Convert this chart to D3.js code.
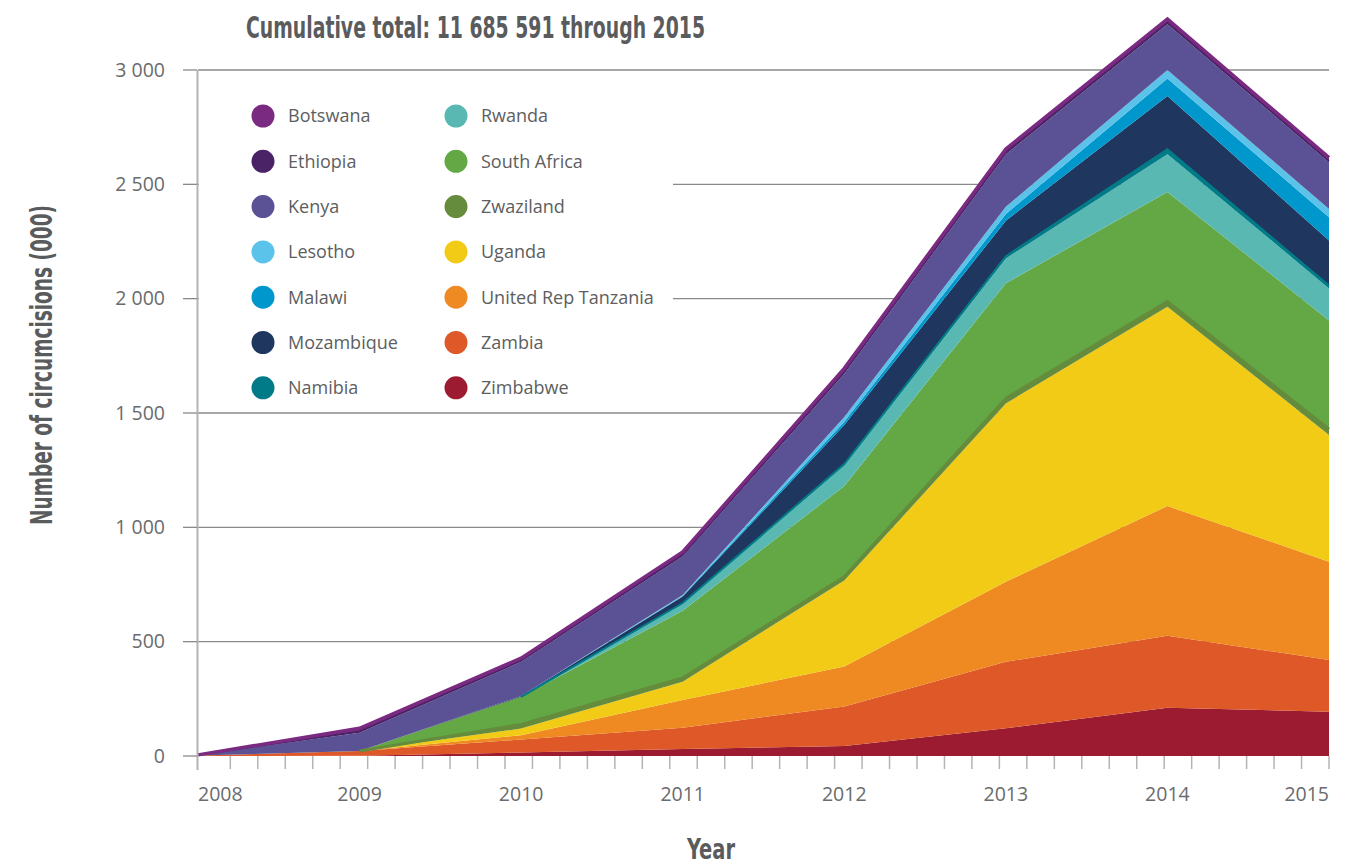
<!DOCTYPE html>
<html>
<head>
<meta charset="utf-8">
<script src="https://cdn.jsdelivr.net/npm/d3@7"></script>
<style>
  html, body { margin: 0; padding: 0; background: #fff; }
  svg { display: block; }
</style>
</head>
<body>
<svg id="chart" width="1356" height="865"></svg>
<script>
// ---------------- DATA ----------------
const years = [2008, 2009, 2010, 2011, 2012, 2013, 2014, 2015];
const xTickLabels = ["2008", "2009", "2010", "2011", "2012", "2013", "2014", "2015"];
const yTickValues = [0, 500, 1000, 1500, 2000, 2500, 3000];
const yTickLabels = ["0", "500", "1 000", "1 500", "2 000", "2 500", "3 000"];

// legend order (top-left to bottom-right); stack order is the reverse
const countries = ["Botswana", "Ethiopia", "Kenya", "Lesotho", "Malawi", "Mozambique", "Namibia",
                   "Rwanda", "South Africa", "Zwaziland", "Uganda", "United Rep Tanzania", "Zambia", "Zimbabwe"];
const colors = ["#7b2a82", "#4a2366", "#5a5294", "#5bc3ea", "#0098cc", "#1f365e", "#007b87",
                "#5ab8b2", "#63a844", "#648c3c", "#f2cb16", "#ef8a22", "#de5828", "#9c1b30"];

// annual circumcisions (thousands), 2008..2015
const botswana    = [0, 13, 10, 12, 15, 15, 15, 14];
const ethiopia    = [0, 6, 6, 6, 8, 8, 8, 6];
const kenya       = [3, 80, 150, 170, 190, 230, 200, 205];
const lesotho     = [0, 0, 0, 4, 20, 32, 37, 36];
const malawi      = [0, 0, 0, 3, 15, 29, 77, 102];
const mozambique  = [0, 0, 3, 28, 170, 155, 233, 197];
const namibia     = [0, 0, 0, 2, 6, 10, 21, 12];
const rwanda      = [0, 0, 0, 32, 90, 109, 165, 140];
const southAfrica = [0, 0, 121, 294, 397, 503, 480, 476];
const zwaziland   = [0, 0, 18, 16, 17, 22, 22, 25];
const uganda      = [0, 0, 29, 80, 376, 780, 872, 554];
const tanzania    = [0, 0, 19, 121, 175, 350, 567, 430];
const zambia      = [2, 21, 57, 93, 172, 291, 315, 226];
const zimbabwe    = [0, 1, 15, 31, 44, 121, 211, 194];

const seriesValues = [botswana, ethiopia, kenya, lesotho, malawi, mozambique, namibia,
                      rwanda, southAfrica, zwaziland, uganda, tanzania, zambia, zimbabwe];

// thin layers drawn with an outline along their upper edge
const outlined = ["Botswana", "Ethiopia", "Zwaziland", "Namibia"];

const titleText = "Cumulative total: 11 685 591 through 2015";
const yTitle = "Number of circumcisions (000)";
const xTitle = "Year";

// ---------------- BUILD ----------------
const table = years.map((yr, i) => {
  const row = { year: yr };
  countries.forEach((c, j) => row[c] = seriesValues[j][i]);
  return row;
});
const stackKeys = countries.slice().reverse();
const stacked = d3.stack().keys(stackKeys)(table);

const svg = d3.select("#chart");
const x = d3.scaleLinear().domain([2008, 2015]).range([198, 1329]);
const y = d3.scaleLinear().domain([0, 3000]).range([756, 70]);

const textColor = "#5d5e60";
const labelFont = "'Open Sans', 'Noto Sans', sans-serif";
const condFont = "'Liberation Sans Narrow', 'DejaVu Sans Condensed', 'Roboto', sans-serif";

// gridlines
svg.append("g").selectAll("line").data(yTickValues.filter(v => v > 0)).join("line")
  .attr("x1", x(2008)).attr("x2", x(2015))
  .attr("y1", d => y(d)).attr("y2", d => y(d))
  .attr("stroke", "#8a8a8a").attr("stroke-width", 1.3);

// legend background covering the gridlines
const legendG = svg.append("g");
legendG.append("rect").attr("x", 199).attr("y", 88).attr("width", 474).attr("height", 318).attr("fill", "#fff");

// areas
const area = d3.area()
  .x(d => x(d.data.year))
  .y0(d => y(d[0]))
  .y1(d => y(d[1]));
svg.append("g").selectAll("path").data(stacked).join("path")
  .attr("d", area)
  .attr("fill", d => colors[countries.indexOf(d.key)]);

// outlines of thin layers (only where the layer exists)
const outlineWidth = { "Botswana": 3.5, "Ethiopia": 1.6, "Zwaziland": 3, "Namibia": 2 };
const present = (d, i, arr) => {
  const v = k => (arr[k] ? arr[k][1] - arr[k][0] : 0);
  return v(i) > 0 || v(i - 1) > 0 || v(i + 1) > 0;
};
const topLine = d3.line().defined(present).x(d => x(d.data.year)).y(d => y(d[1]));
svg.append("g").selectAll("path")
  .data(stacked.filter(s => outlined.includes(s.key)).sort((a, b) => a.index - b.index))
  .join("path")
  .attr("d", topLine)
  .attr("fill", "none")
  .attr("stroke", d => colors[countries.indexOf(d.key)])
  .attr("stroke-width", d => outlineWidth[d.key])
  .attr("stroke-linejoin", "miter");

// y axis line and ticks
svg.append("line").attr("x1", 197.5).attr("x2", 197.5).attr("y1", y(3000)).attr("y2", 770)
  .attr("stroke", "#b4b4b4").attr("stroke-width", 2);
svg.append("g").selectAll("line").data(yTickValues).join("line")
  .attr("x1", 183).attr("x2", 197).attr("y1", d => y(d)).attr("y2", d => y(d))
  .attr("stroke", "#8a8a8a").attr("stroke-width", 1.3);
svg.append("g").selectAll("text").data(yTickValues).join("text")
  .attr("x", 165).attr("y", d => y(d)).attr("dy", "0.35em")
  .attr("text-anchor", "end")
  .attr("font-family", labelFont).attr("font-size", 19.5).attr("fill", "#6a6b6d")
  .text((d, i) => yTickLabels[i]);

// x axis minor ticks
const minorTicks = d3.range(41).map(k => 2015 - k * 0.17);
svg.append("g").selectAll("line").data(minorTicks).join("line")
  .attr("x1", d => x(d)).attr("x2", d => x(d)).attr("y1", 756).attr("y2", 769)
  .attr("stroke", "#b4b4b4").attr("stroke-width", 1.5);

// x tick labels
svg.append("g").selectAll("text").data(years).join("text")
  .attr("x", d => x(d)).attr("y", 801)
  .attr("text-anchor", (d, i) => i === 0 ? "start" : (i === years.length - 1 ? "end" : "middle"))
  .attr("font-family", labelFont).attr("font-size", 19.5).attr("fill", "#6a6b6d")
  .text((d, i) => xTickLabels[i]);

// legend
const legendItems = countries.map((c, i) => ({ name: c, color: colors[i], col: i < 7 ? 0 : 1, row: i % 7 }));
const lg = legendG.selectAll("g.item").data(legendItems).join("g").attr("class", "item")
  .attr("transform", d => `translate(${d.col === 0 ? 263 : 456},${116 + d.row * 45.3})`);
lg.append("circle").attr("r", 11.5).attr("fill", d => d.color);
lg.append("text").attr("x", 25).attr("y", 0).attr("dy", "0.35em")
  .attr("font-family", labelFont).attr("font-size", 18).attr("fill", textColor)
  .text(d => d.name);

// title
svg.append("text").attr("x", 246).attr("y", 38)
  .attr("font-family", condFont).attr("font-weight", "bold").attr("font-size", 31)
  .attr("fill", "#5a5b5d")
  .attr("textLength", 459).attr("lengthAdjust", "spacingAndGlyphs")
  .text(titleText);

// y title
svg.append("text").attr("transform", "translate(52,365) rotate(-90)")
  .attr("text-anchor", "middle")
  .attr("font-family", condFont).attr("font-weight", "bold").attr("font-size", 30)
  .attr("fill", "#5a5b5d")
  .attr("textLength", 320).attr("lengthAdjust", "spacingAndGlyphs")
  .text(yTitle);

// x title
svg.append("text").attr("x", 711).attr("y", 859)
  .attr("text-anchor", "middle")
  .attr("font-family", condFont).attr("font-weight", "bold").attr("font-size", 29)
  .attr("fill", "#5a5b5d")
  .attr("textLength", 48).attr("lengthAdjust", "spacingAndGlyphs")
  .text(xTitle);
</script>
</body>
</html>
